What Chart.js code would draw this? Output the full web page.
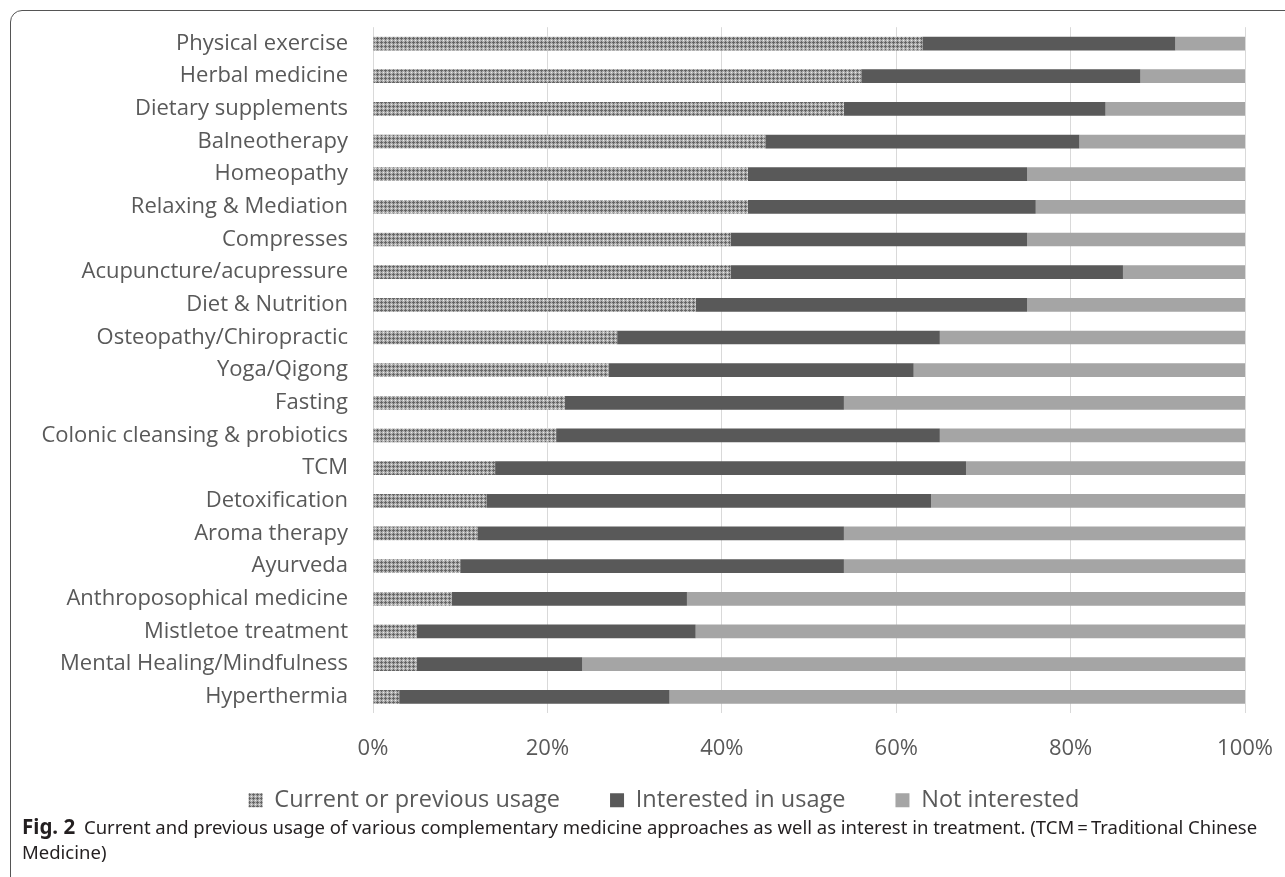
<!DOCTYPE html>
<html>
<head>
<meta charset="utf-8">
<script src="https://cdn.jsdelivr.net/npm/chart.js@4.4.1/dist/chart.umd.min.js"></script>
<style>
  html, body { margin: 0; padding: 0; background: #fff; }
  body { width: 1285px; height: 877px; position: relative; overflow: hidden; }
  .frame {
    position: absolute; left: 10px; top: 10px; width: 1300px; height: 880px;
    border: 1px solid #555; border-radius: 12px; box-sizing: border-box;
  }
  .chart-box { position: absolute; left: 20px; top: -3px; width: 1275px; height: 870px; }
  .caption {
    position: absolute; left: 22px; top: 814px; width: 1250px;
    font-family: "Noto Sans", sans-serif; font-size: 18.5px; line-height: 25px; color: #231f20;
  }
  .caption b { font-size: 20.5px; margin-right: 4px; }
</style>
</head>
<body>
<div class="frame"></div>
<div class="chart-box"><canvas id="cmChart"></canvas></div>
<div class="caption"><span style="white-space:nowrap"><b>Fig. 2</b> Current and previous usage of various complementary medicine approaches as well as interest in treatment. (TCM&thinsp;=&thinsp;Traditional Chinese</span><br>Medicine)</div>

<script>
const approaches = [
  "Physical exercise", "Herbal medicine", "Dietary supplements", "Balneotherapy",
  "Homeopathy", "Relaxing & Mediation", "Compresses", "Acupuncture/acupressure",
  "Diet & Nutrition", "Osteopathy/Chiropractic", "Yoga/Qigong", "Fasting",
  "Colonic cleansing & probiotics", "TCM", "Detoxification", "Aroma therapy",
  "Ayurveda", "Anthroposophical medicine", "Mistletoe treatment",
  "Mental Healing/Mindfulness", "Hyperthermia"
];
const currentUsage = [63, 56, 54, 45, 43, 43, 41, 41, 37, 28, 27, 22, 21, 14, 13, 12, 10, 9, 5, 5, 3];
const interested = [29, 32, 30, 36, 32, 33, 34, 45, 38, 37, 35, 32, 44, 54, 51, 42, 44, 27, 32, 19, 31];
const notInterested = [8, 12, 16, 19, 25, 24, 25, 14, 25, 35, 38, 46, 35, 32, 36, 46, 46, 64, 63, 76, 66];
const xTicks = [0, 20, 40, 60, 80, 100];

// small dotted tile for the "current or previous usage" bars
function makePattern() {
  const tile = document.createElement("canvas");
  tile.width = 4;
  tile.height = 4;
  const t = tile.getContext("2d");
  t.fillStyle = "#b0b0b0";
  t.fillRect(0, 0, 4, 4);
  t.fillStyle = "#666666";
  t.fillRect(1, 0, 1, 3);
  t.fillRect(0, 1, 3, 1);
  t.fillStyle = "#e8e8e8";
  t.fillRect(3, 3, 1, 1);
  return t.createPattern(tile, "repeat");
}

// legend sits a bit higher and further right than chart.js would put it
const legendNudge = {
  id: "legendNudge",
  afterLayout(chart) {
    const l = chart.legend;
    l.left += 24; l.right += 24;
    l.top -= 45; l.bottom -= 45;
  },
};

const grey = "#595959";
const ctx = document.getElementById("cmChart").getContext("2d");

new Chart(ctx, {
  type: "bar",
  data: {
    labels: approaches,
    datasets: [
      { label: "Current or previous usage", data: currentUsage, backgroundColor: makePattern() },
      { label: "Interested in usage", data: interested, backgroundColor: "#595959" },
      { label: "Not interested", data: notInterested, backgroundColor: "#a5a5a5" },
    ],
  },
  plugins: [legendNudge],
  options: {
    indexAxis: "y",
    responsive: true,
    maintainAspectRatio: false,
    animation: false,
    devicePixelRatio: 1,
    datasets: { bar: { barPercentage: 0.42, categoryPercentage: 1 } },
    layout: { padding: { left: 0, right: 35, top: 0, bottom: 0 } },
    scales: {
      x: {
        stacked: true,
        min: 0,
        max: 100,
        afterBuildTicks: (s) => { s.ticks = xTicks.map((v) => ({ value: v })); },
        grid: { color: "#d9d9d9", drawTicks: false },
        border: { display: false },
        ticks: {
          padding: 22,
          color: grey,
          maxRotation: 0,
          font: { family: "Open Sans", size: 22 },
          callback: (v) => v + "%",
        },
      },
      y: {
        stacked: true,
        afterFit: (s) => { s.width = 353; },
        grid: { display: false },
        border: { display: false },
        ticks: {
          padding: 17,
          color: grey,
          autoSkip: false,
          font: { family: "Open Sans", size: 22 },
        },
      },
    },
    plugins: {
      legend: {
        position: "bottom",
        labels: {
          boxWidth: 14,
          boxHeight: 14,
          padding: 50,
          color: grey,
          font: { family: "Open Sans", size: 23.5 },
        },
      },
      tooltip: { enabled: false },
    },
  },
});
</script>
</body>
</html>
